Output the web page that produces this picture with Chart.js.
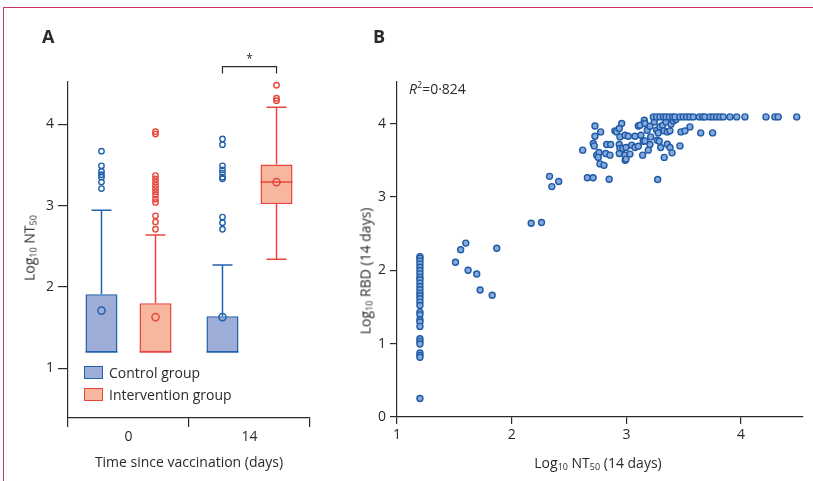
<!DOCTYPE html>
<html>
<head>
<meta charset="utf-8">
<script src="https://cdn.jsdelivr.net/npm/chart.js@4.4.0/dist/chart.umd.min.js"></script>
<style>
  html, body { margin: 0; padding: 0; background: #fff; }
  #wrap { position: relative; width: 813px; height: 481px; overflow: hidden; font-family: 'Open Sans', sans-serif; color: #2a2a2a; }
  #frame { position: absolute; left: 3px; top: 7px; width: 900px; height: 600px; border-left: 1.5px solid #c9335c; border-top: 1.5px solid #c9335c; }
  canvas { position: absolute; top: 0; }
  #cA { left: 0; }
  #cB { left: 330px; }
  .t { position: absolute; white-space: nowrap; font-size: 14px; line-height: 1; }
  .rot { transform: translate(-50%, -50%) rotate(-90deg); }
  .ctr { transform: translate(-50%, -50%); }
  .panel { position: absolute; font-weight: bold; font-size: 18px; font-family: 'Liberation Sans Narrow', 'Open Sans', sans-serif; }
  sub { font-size: 9px; vertical-align: -2px; }
  sup { font-size: 9px; vertical-align: 6px; }
  .key { position: absolute; width: 17px; height: 11px; border: 1.5px solid; }
</style>
</head>
<body>
<div id="wrap">
  <div id="frame"></div>
  <canvas id="cA" width="330" height="481"></canvas>
  <canvas id="cB" width="483" height="481"></canvas>

  <div class="panel" style="left:42px;top:24px;">A</div>
  <div class="panel" style="left:373px;top:24px;">B</div>

  <div class="t rot" style="left:30px;top:248px;">Log<sub>10</sub> NT<sub>50</sub></div>
  <div class="t ctr" style="left:189px;top:462px;">Time since vaccination (days)</div>

  <div class="key" style="left:84px;top:366px;background:#9eacd8;border-color:#2162ad;"></div>
  <div class="t" style="left:109px;top:366px;">Control group</div>
  <div class="key" style="left:84px;top:388px;background:#f7b79f;border-color:#e8463c;"></div>
  <div class="t" style="left:109px;top:388px;">Intervention group</div>

  <div class="t" style="left:409px;top:80px;"><i>R</i><sup>2</sup>=0·824</div>
  <div class="t rot" style="left:366px;top:271px;">Log<sub>10</sub> RBD (14 days)</div>
  <div class="t ctr" style="left:598px;top:463px;">Log<sub>10</sub> NT<sub>50</sub> (14 days)</div>
</div>

<script>
// ---- Panel A: box plots, log10 NT50 by time since vaccination ----
const timeLabels = ['0', '14'];
const yTicksA = [1, 2, 3, 4];

const ctrlQ1 = [1.2, 1.2];
const ctrlQ3 = [1.91, 1.64];
const ctrlMedian = [1.2, 1.2];
const ctrlMean = [1.71, 1.63];
const ctrlLow = [1.2, 1.2];
const ctrlHigh = [2.945, 2.27];
const ctrlOutliers = [
  [3.67, 3.49, 3.42, 3.38, 3.35, 3.29, 3.21],
  [3.82, 3.75, 3.49, 3.44, 3.40, 3.35, 3.33, 2.86, 2.79, 2.71]
];

const intQ1 = [1.2, 3.02];
const intQ3 = [1.80, 3.505];
const intMedian = [1.2, 3.29];
const intMean = [1.63, 3.29];
const intLow = [1.2, 2.34];
const intHigh = [2.64, 4.21];
const intOutliers = [
  [3.91, 3.88, 3.37, 3.33, 3.29, 3.25, 3.21, 3.17, 3.13, 3.08, 3.04, 2.875, 2.80, 2.71],
  [4.48, 4.32, 4.29]
];

const sigBracketY = 4.71;  // "*" between day-14 groups

// ---- Panel B: RBD vs NT50 at 14 days ----
const xTicksB = [1, 2, 3, 4];
const yTicksB = [0, 1, 2, 3, 4];
const nt50Day14 = [
  // column at detection limit
  1.2, 1.2, 1.2, 1.2, 1.2, 1.2, 1.2, 1.2, 1.2, 1.2, 1.2, 1.2, 1.2, 1.2, 1.2,
  1.2, 1.2, 1.2, 1.2, 1.2, 1.2, 1.2, 1.2, 1.2, 1.2, 1.2, 1.2, 1.2, 1.2,
  // low spread
  1.51, 1.555, 1.60, 1.62, 1.695, 1.725, 1.83, 1.87,
  // middle
  2.17, 2.26, 2.33, 2.35, 2.41, 2.66, 2.71, 2.85, 2.77, 2.805, 2.99,
  // cluster
  2.726, 2.726, 2.776, 2.711, 2.72, 2.619, 2.741, 2.761, 2.755, 2.82, 2.857, 2.828, 2.863, 2.90, 2.915,
  2.959, 2.938, 2.944, 2.988, 3.017, 2.938, 2.944, 2.938, 2.968, 2.997, 2.988, 2.997, 3.031, 3.046, 3.075,
  3.075, 3.104, 3.119, 3.104, 3.127, 3.147, 3.156, 3.162, 3.142, 3.162, 3.182, 3.206, 3.191, 3.206, 3.212,
  3.243, 3.264, 3.269, 3.287, 3.273, 3.299, 3.33, 3.357, 3.38, 3.398, 3.278, 3.293, 3.316, 3.328, 3.345,
  3.357, 3.38, 3.389, 3.409, 3.432, 3.467, 3.476, 3.511, 3.554, 3.648, 3.752,
  // top row (assay ceiling)
  3.235, 3.264, 3.293, 3.322, 3.345, 3.374, 3.404, 3.424, 3.467, 3.496, 3.526, 3.554, 3.583, 3.636,
  3.665, 3.685, 3.729, 3.758, 3.787, 3.816, 3.845, 3.903, 3.962, 4.034, 4.217, 4.295, 4.324, 4.485
];
const rbdDay14 = [
  2.186, 2.165, 2.128, 2.087, 2.042, 1.996, 1.951, 1.906, 1.870, 1.825, 1.778, 1.734, 1.689, 1.652, 1.611,
  1.566, 1.520, 1.430, 1.394, 1.326, 1.294, 1.235, 1.067, 1.031, 0.995, 0.873, 0.840, 0.813, 0.252,
  2.11, 2.28, 2.37, 2.00, 1.95, 1.73, 1.66, 2.30,
  2.64, 2.65, 3.28, 3.14, 3.21, 3.26, 3.26, 3.24, 3.45, 3.43, 3.50,
  3.967, 3.827, 3.886, 3.728, 3.695, 3.637, 3.569, 3.606, 3.538, 3.592, 3.569, 3.714, 3.714, 3.90, 3.886,
  4.0, 3.932, 3.818, 3.841, 3.827, 3.714, 3.66, 3.592, 3.66, 3.674, 3.569, 3.515, 3.583, 3.705, 3.674,
  3.827, 3.967, 3.977, 3.691, 3.841, 3.759, 4.045, 4.0, 3.569, 3.763, 3.909, 3.963, 3.637, 3.714, 3.818,
  4.022, 3.909, 3.773, 3.759, 3.238, 3.674, 3.538, 3.718, 3.674, 3.60, 3.872, 3.954, 3.977, 3.90, 4.022,
  3.886, 3.90, 3.99, 4.036, 4.054, 3.695, 3.886, 3.90, 3.954, 3.872, 3.872,
  4.09, 4.09, 4.09, 4.09, 4.09, 4.09, 4.09, 4.09, 4.09, 4.09, 4.09, 4.09, 4.09, 4.09,
  4.09, 4.09, 4.09, 4.09, 4.09, 4.09, 4.09, 4.09, 4.09, 4.09, 4.09, 4.09, 4.09, 4.09
];

const COL = {
  ctrl: '#2162ad', ctrlFill: '#9eacd8',
  int: '#e8463c', intFill: '#f7b79f',
  dot: '#1f5aa8', dotFill: '#86a9dc',
  axis: '#2a2a2a', text: '#2a2a2a',
  font: "'Open Sans', sans-serif",
};

const boxSeries = [
  { color: COL.ctrl, median: ctrlMedian, mean: ctrlMean, low: ctrlLow, high: ctrlHigh, q1: ctrlQ1, q3: ctrlQ3, outliers: ctrlOutliers },
  { color: COL.int,  median: intMedian,  mean: intMean,  low: intLow,  high: intHigh,  q1: intQ1,  q3: intQ3,  outliers: intOutliers },
];

function axisStyle(tickLen) {
  return {
    grid: { drawOnChartArea: false, drawTicks: true, tickLength: tickLen, color: COL.axis, lineWidth: 1.2 },
    border: { display: true, color: COL.axis, width: 1.2 },
  };
}
const tickFont = { family: COL.font, size: 14 };

// whiskers, medians, means, outliers and the significance bracket
const boxExtras = {
  id: 'boxExtras',
  afterDatasetsDraw(chart) {
    const ctx = chart.ctx, y = chart.scales.y;
    const cap = 10;
    ctx.save();
    ctx.lineWidth = 1.5;
    boxSeries.forEach((s, d) => {
      chart.getDatasetMeta(d).data.forEach((bar, j) => {
        const x = bar.x, half = bar.width / 2;
        ctx.strokeStyle = s.color;
        ctx.beginPath();
        if (s.high[j] > s.q3[j]) {
          ctx.moveTo(x, y.getPixelForValue(s.q3[j])); ctx.lineTo(x, y.getPixelForValue(s.high[j]));
          ctx.moveTo(x - cap, y.getPixelForValue(s.high[j])); ctx.lineTo(x + cap, y.getPixelForValue(s.high[j]));
        }
        if (s.low[j] < s.q1[j]) {
          ctx.moveTo(x, y.getPixelForValue(s.q1[j])); ctx.lineTo(x, y.getPixelForValue(s.low[j]));
          ctx.moveTo(x - cap, y.getPixelForValue(s.low[j])); ctx.lineTo(x + cap, y.getPixelForValue(s.low[j]));
        }
        ctx.moveTo(x - half, y.getPixelForValue(s.median[j])); ctx.lineTo(x + half, y.getPixelForValue(s.median[j]));
        ctx.stroke();
        // mean
        ctx.beginPath(); ctx.arc(x, y.getPixelForValue(s.mean[j]), 3.6, 0, Math.PI * 2); ctx.stroke();
        // outliers
        ctx.lineWidth = 1.4;
        s.outliers[j].forEach(v => {
          ctx.beginPath(); ctx.arc(x, y.getPixelForValue(v), 2.7, 0, Math.PI * 2); ctx.stroke();
        });
        ctx.lineWidth = 1.5;
      });
    });
    // bracket between the day-14 boxes
    const xa = chart.getDatasetMeta(0).data[1].x, xb = chart.getDatasetMeta(1).data[1].x;
    const by = y.getPixelForValue(sigBracketY);
    ctx.strokeStyle = COL.axis; ctx.lineWidth = 1.2;
    ctx.beginPath();
    ctx.moveTo(xa, by + 7); ctx.lineTo(xa, by); ctx.lineTo(xb, by); ctx.lineTo(xb, by + 7);
    ctx.stroke();
    ctx.fillStyle = COL.text; ctx.font = `12px ${COL.font}`; ctx.textAlign = 'center'; ctx.textBaseline = 'middle';
    ctx.fillText('*', (xa + xb) / 2, by - 7);
    ctx.restore();
  }
};

new Chart(document.getElementById('cA'), {
  type: 'bar',
  data: {
    labels: timeLabels,
    datasets: [
      { label: 'Control group', data: ctrlQ1.map((v, i) => [v, ctrlQ3[i]]),
        backgroundColor: COL.ctrlFill, borderColor: COL.ctrl, borderWidth: 1.5, borderSkipped: false },
      { label: 'Intervention group', data: intQ1.map((v, i) => [v, intQ3[i]]),
        backgroundColor: COL.intFill, borderColor: COL.int, borderWidth: 1.5, borderSkipped: false },
    ]
  },
  options: {
    responsive: false, animation: false,
    datasets: { bar: { categoryPercentage: 0.893, barPercentage: 0.593 } },
    layout: { padding: { top: 82, right: 20, left: 0, bottom: 0 } },
    plugins: { legend: { display: false }, tooltip: { enabled: false } },
    scales: {
      x: { ...axisStyle(9), grid: { ...axisStyle(9).grid, offset: true },
        ticks: { color: COL.text, font: tickFont, padding: 2 },
        afterFit(s) { s.height = 63; } },
      y: { ...axisStyle(10), min: 0.39, max: 4.52,
        afterBuildTicks(s) { s.ticks = yTicksA.map(v => ({ value: v })); },
        ticks: { color: COL.text, font: tickFont, padding: 4 },
        afterFit(s) { s.width = 68; } },
    }
  },
  plugins: [boxExtras]
});

new Chart(document.getElementById('cB'), {
  type: 'scatter',
  data: {
    datasets: [{
      data: nt50Day14.map((x, i) => ({ x, y: rbdDay14[i] })),
      backgroundColor: COL.dotFill, borderColor: COL.dot, borderWidth: 1.4, pointRadius: 3,
    }]
  },
  options: {
    responsive: false, animation: false,
    layout: { padding: { top: 82, right: 10, left: 0, bottom: 0 } },
    plugins: { legend: { display: false }, tooltip: { enabled: false } },
    scales: {
      x: { ...axisStyle(7), type: 'linear', min: 1, max: 4.54,
        afterBuildTicks(s) { s.ticks = xTicksB.map(v => ({ value: v })); },
        ticks: { color: COL.text, font: tickFont, padding: 3 },
        afterFit(s) { s.height = 64; } },
      y: { ...axisStyle(7), min: 0, max: 4.566,
        afterBuildTicks(s) { s.ticks = yTicksB.map(v => ({ value: v })); },
        ticks: { color: COL.text, font: tickFont, padding: 4 },
        afterFit(s) { s.width = 67; } },
    }
  }
});
</script>
</body>
</html>
